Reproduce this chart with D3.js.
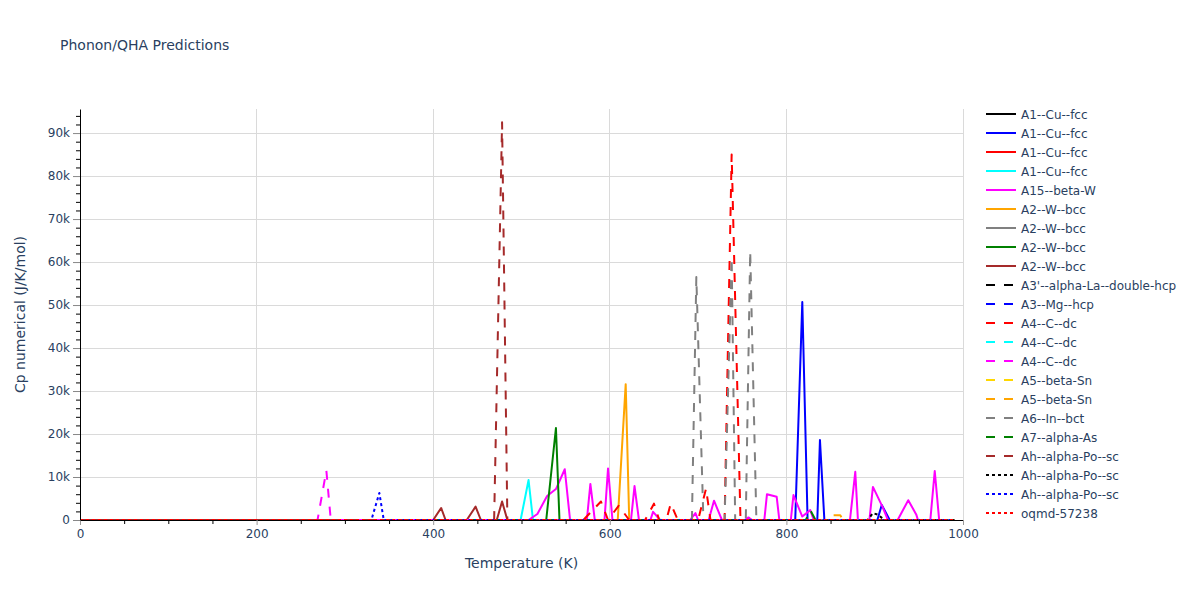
<!DOCTYPE html>
<html>
<head>
<meta charset="utf-8">
<script src="https://cdn.jsdelivr.net/npm/d3@7"></script>
<style>
  html, body { margin: 0; padding: 0; background: #fff; }
  svg { display: block; font-family: "DejaVu Sans", Verdana, sans-serif; }
</style>
</head>
<body>
<svg id="chart" width="1200" height="600"></svg>
<script>
// ---------------- DATA ----------------
const chartTitle = "Phonon/QHA Predictions";
const xTitle = "Temperature (K)";
const yTitle = "Cp numerical (J/K/mol)";

const xDomain = [0, 1000];
const yDomain = [0, 95600];
const xMajorTicks = [0, 200, 400, 600, 800, 1000];
const xMinorTicks = [50, 100, 150, 250, 300, 350, 450, 500, 550, 650, 700, 750, 850, 900, 950];
const yMajorTicks = [0, 10000, 20000, 30000, 40000, 50000, 60000, 70000, 80000, 90000];
const yMinorTicks = [2000, 4000, 6000, 8000, 12000, 14000, 16000, 18000, 22000, 24000, 26000, 28000,
  32000, 34000, 36000, 38000, 42000, 44000, 46000, 48000, 52000, 54000, 56000, 58000,
  62000, 64000, 66000, 68000, 72000, 74000, 76000, 78000, 82000, 84000, 86000, 88000,
  92000, 94000];

const seriesNames = [
  "A1--Cu--fcc", "A1--Cu--fcc", "A1--Cu--fcc", "A1--Cu--fcc", "A15--beta-W",
  "A2--W--bcc", "A2--W--bcc", "A2--W--bcc", "A2--W--bcc",
  "A3'--alpha-La--double-hcp", "A3--Mg--hcp", "A4--C--dc", "A4--C--dc", "A4--C--dc",
  "A5--beta-Sn", "A5--beta-Sn", "A6--In--bct", "A7--alpha-As",
  "Ah--alpha-Po--sc", "Ah--alpha-Po--sc", "Ah--alpha-Po--sc", "oqmd-57238"
];

// [temperature K, Cp J/K/mol]
const cuFccBlack = [[0,0],[990,0]];
const cuFccBlue = [[0,0],[810,0],[818,50700],[824,0],[835,0],[838,18600],[843,0],[903,0],[908,3500],[917,0],[990,0]];
const cuFccRed = [[0,0],[990,0]];
const cuFccCyan = [[0,0],[499,0],[508,9300],[513,0],[990,0]];
const betaW = [[0,0],[508,0],[518,1400],[529,5600],[539,7200],[549,11800],[555,0],[574,0],[578,8400],[583,0],
  [594,0],[598,12000],[603,0],[624,0],[628,7900],[633,0],[646,0],[649,1900],[657,0],[691,0],[697,1600],[700,0],
  [712,0],[718,4500],[727,0],[753,0],[757,600],[761,0],[775,0],[778,6000],[789,5400],[792,0],[805,0],[808,5800],
  [818,800],[827,2300],[831,0],[872,0],[878,11200],[881,0],[894,0],[898,7700],[909,3000],[915,0],[926,0],
  [938,4600],[947,1300],[949,0],[963,0],[968,11400],[973,0],[990,0]];
const wBccOrange = [[0,0],[609,0],[618,31600],[622,0],[990,0]];
const wBccGray = [[0,0],[990,0]];
const wBccGreen = [[0,0],[528,0],[539,21400],[543,0],[990,0]];
const wBccBrown = [[0,0],[400,0],[409,2800],[414,0],[438,0],[448,3100],[454,0],[472,0],[478,4300],[484,0],[990,0]];
const laDhcp = [[0,0],[990,0]];
const mgHcp = [[0,0],[990,0]];
const cDcRed = [[0,0],[570,0],[590,4300],[598,0],[610,3300],[622,0],[640,0],[650,3800],[656,0],[664,0],[669,3800],
  [677,0],[700,0],[709,7300],[714,0],[730,0],[738,85000],[748,0],[990,0]];
const cDcCyan = [[0,0],[990,0]];
const cDcMagenta = [[0,0],[269,0],[279,11500],[284,0],[990,0]];
const snGold = [[0,0],[990,0]];
const snOrange = [[0,0],[847,0],[851,1100],[861,1100],[864,0],[990,0]];
const inBct = [[0,0],[693,0],[698,56500],[706,0],[730,0],[738,61000],[742,0],[754,0],[759,62500],[766,0],[990,0]];
const asAlpha = [[0,0],[822,0],[827,2300],[833,0],[990,0]];
const poScBrown = [[0,0],[469,0],[478,92500],[484,0],[990,0]];
const poScBlack = [[0,0],[892,0],[898,1600],[904,1200],[911,0],[990,0]];
const poScBlue = [[0,0],[330,0],[339,6300],[344,0],[990,0]];
const oqmd = [[0,0],[990,0]];

const seriesData = [cuFccBlack, cuFccBlue, cuFccRed, cuFccCyan, betaW, wBccOrange, wBccGray, wBccGreen, wBccBrown,
  laDhcp, mgHcp, cDcRed, cDcCyan, cDcMagenta, snGold, snOrange, inBct, asAlpha, poScBrown, poScBlack, poScBlue, oqmd];

// ---------------- STYLES ----------------
const seriesColors = ["#000000", "#0000ff", "#ff0000", "#00ffff", "#ff00ff", "#ffa500", "#808080", "#008000", "#a52a2a",
  "#000000", "#0000ff", "#ff0000", "#00ffff", "#ff00ff", "#ffd700", "#ffa500", "#808080", "#008000",
  "#a52a2a", "#000000", "#0000ff", "#ff0000"];
const seriesDash = ["solid","solid","solid","solid","solid","solid","solid","solid","solid",
  "dash","dash","dash","dash","dash","dash","dash","dash","dash","dash","dot","dot","dot"];
const dashArray = { solid: null, dash: "9,9", dot: "3,3" };

const textColor = "#2a3f5f";
const gridColor = "#dadada";
const plot = { left: 80, right: 963, top: 109, bottom: 520 };

// ---------------- DRAW ----------------
const svg = d3.select("#chart");
const x = d3.scaleLinear().domain(xDomain).range([plot.left, plot.right]);
const y = d3.scaleLinear().domain(yDomain).range([plot.bottom, plot.top]);

svg.append("rect").attr("width", 1200).attr("height", 600).attr("fill", "#fff");

// grid
const grid = svg.append("g");
grid.selectAll("line.xg").data(xMajorTicks.filter(d => d > 0)).join("line")
  .attr("x1", d => x(d)).attr("x2", d => x(d))
  .attr("y1", plot.top).attr("y2", plot.bottom)
  .attr("stroke", gridColor).attr("stroke-width", 1).attr("shape-rendering", "crispEdges");
grid.selectAll("line.yg").data(yMajorTicks.filter(d => d > 0)).join("line")
  .attr("x1", plot.left).attr("x2", plot.right)
  .attr("y1", d => y(d)).attr("y2", d => y(d))
  .attr("stroke", gridColor).attr("stroke-width", 1).attr("shape-rendering", "crispEdges");

// clip
svg.append("clipPath").attr("id", "clip").append("rect")
  .attr("x", plot.left).attr("y", plot.top - 2)
  .attr("width", plot.right - plot.left).attr("height", plot.bottom - plot.top + 4);

const line = d3.line().x(d => x(d[0])).y(d => y(d[1]));
const traces = svg.append("g").attr("clip-path", "url(#clip)");
seriesData.forEach((data, i) => {
  traces.append("path")
    .attr("d", line(data))
    .attr("fill", "none")
    .attr("stroke", seriesColors[i])
    .attr("stroke-width", 2)
    .attr("stroke-linejoin", "round")
    .attr("stroke-dasharray", dashArray[seriesDash[i]]);
});

// axes
const xAxis = svg.append("g").attr("transform", `translate(0,${plot.bottom})`)
  .call(d3.axisBottom(x).tickValues(xMajorTicks).tickSize(5).tickSizeOuter(0).tickPadding(4).tickFormat(d3.format("d")));
xAxis.select(".domain").attr("stroke", "#000");
xAxis.selectAll(".tick line").attr("stroke", "#999");
xAxis.selectAll(".tick text").attr("fill", textColor).attr("font-size", 12).attr("font-family", "DejaVu Sans");
svg.append("g").attr("transform", `translate(0,${plot.bottom})`)
  .call(d3.axisBottom(x).tickValues(xMinorTicks).tickSize(4).tickSizeOuter(0).tickFormat(""))
  .call(g => g.select(".domain").remove())
  .selectAll(".tick line").attr("stroke", "#000");

const yAxis = svg.append("g").attr("transform", `translate(${plot.left},0)`)
  .call(d3.axisLeft(y).tickValues(yMajorTicks).tickSize(7).tickSizeOuter(0).tickPadding(3)
    .tickFormat(d => d === 0 ? "0" : d3.format("~s")(d)));
yAxis.select(".domain").attr("stroke", "#000");
yAxis.selectAll(".tick line").attr("stroke", "#888");
yAxis.selectAll(".tick text").attr("fill", textColor).attr("font-size", 12).attr("font-family", "DejaVu Sans");
svg.append("g").attr("transform", `translate(${plot.left},0)`)
  .call(d3.axisLeft(y).tickValues(yMinorTicks).tickSize(4).tickSizeOuter(0).tickFormat(""))
  .call(g => g.select(".domain").remove())
  .selectAll(".tick line").attr("stroke", "#000");

// titles
svg.append("text").attr("x", 60).attr("y", 50).text(chartTitle)
  .attr("fill", textColor).attr("font-size", 14);
svg.append("text").attr("x", (plot.left + plot.right) / 2).attr("y", 568).attr("text-anchor", "middle")
  .text(xTitle).attr("fill", textColor).attr("font-size", 14);
svg.append("text").attr("transform", `translate(25,${(plot.top + plot.bottom) / 2 + 0}) rotate(-90)`)
  .attr("text-anchor", "middle").text(yTitle).attr("fill", textColor).attr("font-size", 14);

// legend
const legend = svg.append("g");
seriesNames.forEach((name, i) => {
  const ly = 114 + i * 19;
  legend.append("line").attr("x1", 986).attr("x2", 1016).attr("y1", ly).attr("y2", ly)
    .attr("stroke", seriesColors[i]).attr("stroke-width", 2)
    .attr("stroke-dasharray", dashArray[seriesDash[i]]);
  legend.append("text").attr("x", 1021).attr("y", ly + 4.5).text(name)
    .attr("fill", textColor).attr("font-size", 12);
});
</script>
</body>
</html>
